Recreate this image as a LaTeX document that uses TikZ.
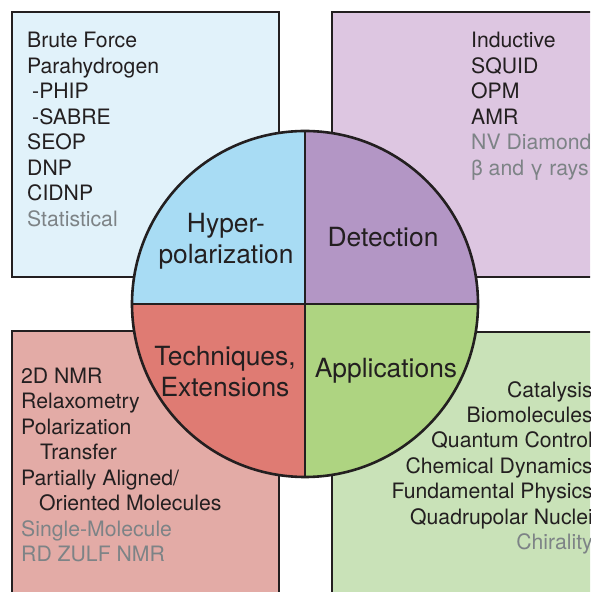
\documentclass[tikz,border=0pt]{standalone}
\usepackage{fontspec,xcolor}
\setmainfont{TeX Gyre Heros}
\definecolor{ink}{HTML}{231F20}
\definecolor{dim}{HTML}{7D8386}
\definecolor{hypsoft}{HTML}{E1F2FA}
\definecolor{hyp}{HTML}{A8DCF4}
\definecolor{detsoft}{HTML}{DDC6E1}
\definecolor{det}{HTML}{B396C5}
\definecolor{techsoft}{HTML}{E3ABA6}
\definecolor{tech}{HTML}{DF7B73}
\definecolor{appsoft}{HTML}{C9E2B8}
\definecolor{app}{HTML}{AED481}
\begin{document}
\begin{tikzpicture}[x=1pt, y=1pt, every node/.style={inner sep=0pt, text=ink}, panel/.style={draw=ink, line width=2.6pt}, list/.style={font=\fontsize{21.2}{25.5}\selectfont}, title/.style={font=\fontsize{26.4}{31}\selectfont, align=center}]
\useasboundingbox (0,0) rectangle (590,592);
\clip (0,0) rectangle (590,592);
\draw[panel,fill=hypsoft] (12,315) rectangle (279,580);
\draw[panel,fill=detsoft] (332,315) rectangle (620,580);
\draw[panel,fill=techsoft] (12,-20) rectangle (279,261);
\draw[panel,fill=appsoft] (332,-20) rectangle (620,260);
\coordinate (c) at (305,288);
\fill[hyp] (c) -- ++(180:173) arc (180:90:173) -- cycle;
\fill[det] (c) -- ++(90:173) arc (90:0:173) -- cycle;
\fill[app] (c) -- ++(0:173) arc (0:-90:173) -- cycle;
\fill[tech] (c) -- ++(-90:173) arc (-90:-180:173) -- cycle;
\draw[panel] (c) ++(-173,0) -- ++(346,0);
\draw[panel] (c) ++(0,-173) -- ++(0,346);
\draw[panel] (c) circle (173);
% lists are anchored on the baseline of their last line
\node[list,align=left,anchor=base west] (hyplist) at (27,365.8) {Brute Force\\Parahydrogen\\\hspace{5pt}-PHIP\\\hspace{5pt}-SABRE\\SEOP\\DNP\\CIDNP\\\textcolor{dim}{Statistical}};
\node[list,align=left,anchor=base west] (detlist) at (471,416.5) {Inductive\\SQUID\\OPM\\AMR\\\textcolor{dim}{NV Diamond}\\\textcolor{dim}{β and γ rays}};
\node[list,align=left,anchor=base west] (techlist) at (21,30.5) {2D NMR\\Relaxometry\\Polarization\\\hspace{19pt}Transfer\\Partially Aligned/\\\hspace{18pt}Oriented Molecules\\\textcolor{dim}{Single-Molecule}\\\textcolor{dim}{RD ZULF NMR}};
\node[list,align=right,anchor=base east] (applist) at (593,42) {Catalysis\\Biomolecules\\Quantum Control\\Chemical Dynamics\\Fundamental Physics\\Quadrupolar Nuclei\\\textcolor{dim}{Chirality}};
\node[title,anchor=base] (hyper) at (226,328) {Hyper-\\polarization};
\node[title,anchor=base] (detect) at (383,345) {Detection};
\node[title,anchor=base] (techs) at (225,195) {Techniques,\\Extensions};
\node[title,anchor=base] (appl) at (386,214) {Applications};
\end{tikzpicture}
\end{document}
